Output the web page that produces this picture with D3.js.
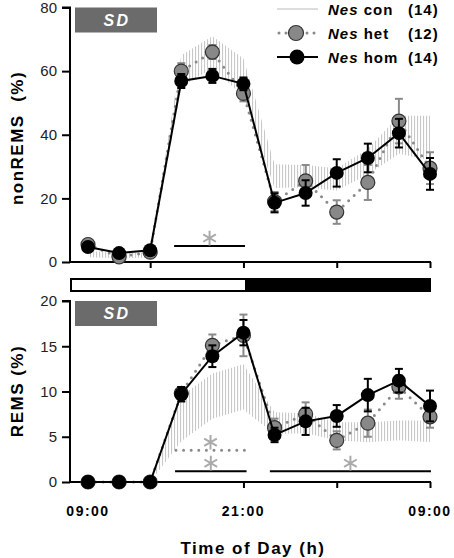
<!DOCTYPE html>
<html><head><meta charset="utf-8">
<script src="https://cdn.jsdelivr.net/npm/d3@7"></script>
<style>
html,body{margin:0;padding:0;background:#fff;}
svg{display:block;font-family:"Liberation Sans",Arial,sans-serif;}
</style></head>
<body><svg id="c" width="454" height="558"></svg>
<script>
const timeIdx = [0,1,2,3,4,5,6,7,8,9,10,11];
const xTickIdx = [2,5,8,11];
const xLabels = [{i:0,t:"09:00"},{i:5,t:"21:00"},{i:11,t:"09:00"}];

const nremHom    = [4.7, 2.8, 3.7, 56.9, 58.5, 56.0, 18.6, 21.7, 28.0, 32.7, 40.5, 27.7];
const nremHomErr = [1.0, 0.8, 1.0, 2.2, 2.2, 2.0, 3.0, 4.0, 4.3, 4.5, 4.5, 5.0];
const nremHet    = [5.5, 1.6, 3.1, 60.0, 66.0, 53.0, 19.0, 25.5, 15.7, 25.0, 44.3, 29.5];
const nremHetErr = [1.0, 0.8, 1.0, 2.5, 2.2, 2.5, 3.0, 5.0, 3.7, 5.5, 7.0, 5.0];
const nremCon    = [2.5, 2.0, 2.2, 60.0, 66.0, 58.0, 27.0, 27.0, 26.0, 31.5, 40.0, 39.0];
const nremConErr = [1.0, 0.8, 0.8, 5.0, 5.0, 6.0, 3.7, 3.5, 3.5, 4.0, 6.0, 7.0];

const remHom    = [0, 0, 0, 9.7, 13.9, 16.5, 5.2, 6.7, 7.3, 9.6, 11.2, 8.4];
const remHomErr = [0, 0, 0, 0.8, 1.2, 1.4, 0.8, 1.5, 1.2, 1.8, 1.3, 1.7];
const remHet    = [0, 0, 0, 9.8, 15.1, 16.2, 6.0, 7.5, 4.6, 6.5, 10.5, 7.2];
const remHetErr = [0, 0, 0, 0.7, 1.2, 2.3, 1.0, 1.3, 1.0, 1.5, 1.3, 1.2];
const remCon    = [0, 0, 0, 7.0, 9.5, 10.5, 6.5, 6.5, 5.6, 5.5, 5.7, 5.6];
const remConErr = [0, 0, 0, 2.5, 2.5, 2.5, 1.2, 1.1, 1.0, 1.1, 1.1, 1.2];

const nremTicks = [0,20,40,60,80];
const remTicks = [0,5,10,15,20];
const legendNames = ["con","het","hom"];
const legendN = ["(14)","(12)","(14)"];

const svg = d3.select("#c");
const x = d3.scaleLinear().domain([0,11]).range([88,430]);
const X0 = 70, X1 = 430;

const defs = svg.append("defs");
defs.append("pattern").attr("id","hatch").attr("patternUnits","userSpaceOnUse")
  .attr("width",3).attr("height",10)
  .append("rect").attr("x",0).attr("y",0).attr("width",1.1).attr("height",10).attr("fill","#c8c8c8");

const star = d3.symbol().type(d3.symbolAsterisk).size(150);

function panel(cfg){
  const y = d3.scaleLinear().domain(cfg.domain).range(cfg.range);
  const g = svg.append("g");
  const area = d3.area().x((d,i)=>x(timeIdx[i])).y0((d,i)=>y(Math.max(0,cfg.con[i]-cfg.conErr[i]))).y1((d,i)=>y(cfg.con[i]+cfg.conErr[i]));
  g.append("path").datum(cfg.con).attr("d",area).attr("fill","url(#hatch)");

  const ya = d3.axisLeft(y).tickValues(cfg.ticks).tickSize(8).tickPadding(5).tickFormat(d3.format("d"));
  const yg = g.append("g").attr("transform",`translate(${X0},0)`).call(ya);
  yg.select(".domain").attr("stroke","#000").attr("stroke-width",2).attr("d",`M-8,${cfg.range[1]}H0V${cfg.range[0]}`);
  yg.selectAll(".tick line").attr("stroke-width",2);
  yg.selectAll(".tick text").attr("font-size",15).attr("fill","#222").attr("font-family","Liberation Sans, Arial");
  g.append("line").attr("x1",X0-1).attr("x2",X1+1).attr("y1",cfg.range[0]).attr("y2",cfg.range[0]).attr("stroke","#000").attr("stroke-width",2);
  const xa = d3.axisBottom(x).tickValues(xTickIdx).tickSize(6).tickFormat("");
  const xg = g.append("g").attr("transform",`translate(0,${cfg.range[0]})`).call(xa);
  xg.select(".domain").remove();
  xg.selectAll(".tick line").attr("stroke-width",2);

  g.append("rect").attr("x",75).attr("y",cfg.range[1]).attr("width",82).attr("height",25).attr("fill","#6b6b6b");
  g.append("text").attr("x",117).attr("y",cfg.range[1]+18).attr("text-anchor","middle").attr("fill","#fff")
    .attr("font-size",16).attr("font-weight","bold").attr("font-style","italic").attr("letter-spacing",2.5).text("SD");

  cfg.sig.forEach(s=>{
    g.append("line").attr("x1",x(s.a)).attr("x2",x(s.b)).attr("y1",y(s.v)).attr("y2",y(s.v))
      .attr("stroke",s.dot?"#8a8a8a":"#000").attr("stroke-width",s.dot?3:2)
      .attr("stroke-dasharray",s.dot?"0,7.6":null).attr("stroke-linecap",s.dot?"round":"butt");
    g.append("path").attr("d",star).attr("transform",`translate(${x((s.a+s.b)/2)},${y(s.v)-8})`)
      .attr("fill","none").attr("stroke","#aaaaaa").attr("stroke-width",2);
  });

  const line = d3.line().x((d,i)=>x(timeIdx[i])).y(d=>y(d));
  g.append("path").datum(cfg.het).attr("d",line).attr("fill","none").attr("stroke","#8a8a8a")
    .attr("stroke-width",3).attr("stroke-dasharray","0,7.6").attr("stroke-linecap","round");
  function errs(vals, err, col){
    const eg = g.append("g").attr("stroke",col).attr("stroke-width",2);
    vals.forEach((v,i)=>{
      if(err[i]<=0) return;
      const cx = x(timeIdx[i]), t=y(v+err[i]), b=y(v-err[i]);
      eg.append("line").attr("x1",cx).attr("x2",cx).attr("y1",t).attr("y2",b);
      eg.append("line").attr("x1",cx-4).attr("x2",cx+4).attr("y1",t).attr("y2",t);
      eg.append("line").attr("x1",cx-4).attr("x2",cx+4).attr("y1",b).attr("y2",b);
    });
  }
  errs(cfg.het, cfg.hetErr, "#8a8a8a");
  g.selectAll(null).data(cfg.het).enter().append("circle").attr("cx",(d,i)=>x(timeIdx[i])).attr("cy",d=>y(d))
    .attr("r",7).attr("fill","#888").attr("stroke","#333").attr("stroke-width",1.2);
  g.append("path").datum(cfg.hom).attr("d",line).attr("fill","none").attr("stroke","#000").attr("stroke-width",2);
  errs(cfg.hom, cfg.homErr, "#000");
  g.selectAll(null).data(cfg.hom).enter().append("circle").attr("cx",(d,i)=>x(timeIdx[i])).attr("cy",d=>y(d))
    .attr("r",7).attr("fill","#000");

  g.append("text").attr("transform",`translate(23,${cfg.titleY}) rotate(-90)`).attr("text-anchor","middle")
    .attr("font-size",17).attr("font-weight","bold").attr("letter-spacing",1.5)
    .style("white-space","pre").text(cfg.title);
}

panel({domain:[0,80],range:[262,7.5],ticks:nremTicks,hom:nremHom,homErr:nremHomErr,het:nremHet,hetErr:nremHetErr,
  con:nremCon,conErr:nremConErr,title:"nonREMS  (%)",titleY:138,
  sig:[{a:2.77,b:5.05,v:5,dot:false}]});
panel({domain:[0,20],range:[482,301],ticks:remTicks,hom:remHom,homErr:remHomErr,het:remHet,hetErr:remHetErr,
  con:remCon,conErr:remConErr,title:"REMS (%)",titleY:391,
  sig:[{a:2.83,b:5.05,v:3.5,dot:true},{a:2.8,b:5.1,v:1.2,dot:false},{a:5.85,b:11.03,v:1.2,dot:false}]});

svg.append("rect").attr("x",71).attr("y",279).attr("width",359).attr("height",12).attr("fill","#fff").attr("stroke","#000").attr("stroke-width",2);
svg.append("rect").attr("x",x(5.05)).attr("y",279).attr("width",430-x(5.05)).attr("height",12).attr("fill","#000");

svg.selectAll(null).data(xLabels).enter().append("text").attr("x",d=>x(d.i)).attr("y",516).attr("text-anchor","middle")
  .attr("font-size",14).attr("font-weight","bold").attr("letter-spacing",1.5).text(d=>d.t);
svg.append("text").attr("x",253).attr("y",554).attr("text-anchor","middle").attr("font-size",17).attr("font-weight","bold")
  .attr("letter-spacing",1.5).text("Time of Day (h)");

const lg = svg.append("g");
legendNames.forEach((n,i)=>{
  const ly = 9 + i*24;
  if(i===0) lg.append("line").attr("x1",277).attr("x2",318).attr("y1",ly).attr("y2",ly).attr("stroke","#bbb").attr("stroke-width",1.2);
  if(i===1){
    lg.append("line").attr("x1",279).attr("x2",318).attr("y1",ly).attr("y2",ly).attr("stroke","#8a8a8a").attr("stroke-width",3)
      .attr("stroke-dasharray","0,7").attr("stroke-linecap","round");
    lg.append("circle").attr("cx",296).attr("cy",ly).attr("r",7.5).attr("fill","#888").attr("stroke","#333").attr("stroke-width",1.2);
  }
  if(i===2){
    lg.append("line").attr("x1",277).attr("x2",318).attr("y1",ly).attr("y2",ly).attr("stroke","#000").attr("stroke-width",2);
    lg.append("circle").attr("cx",297).attr("cy",ly).attr("r",7.5).attr("fill","#000");
  }
  const t = lg.append("text").attr("x",328).attr("y",ly+5.5).attr("font-size",15).attr("font-weight","bold").attr("letter-spacing",1);
  t.append("tspan").attr("font-style","italic").text("Nes");
  t.append("tspan").text(" "+n);
  lg.append("text").attr("x",408).attr("y",ly+5.5).attr("font-size",15).attr("font-weight","bold").attr("letter-spacing",1).text(legendN[i]);
});
</script></body></html>
